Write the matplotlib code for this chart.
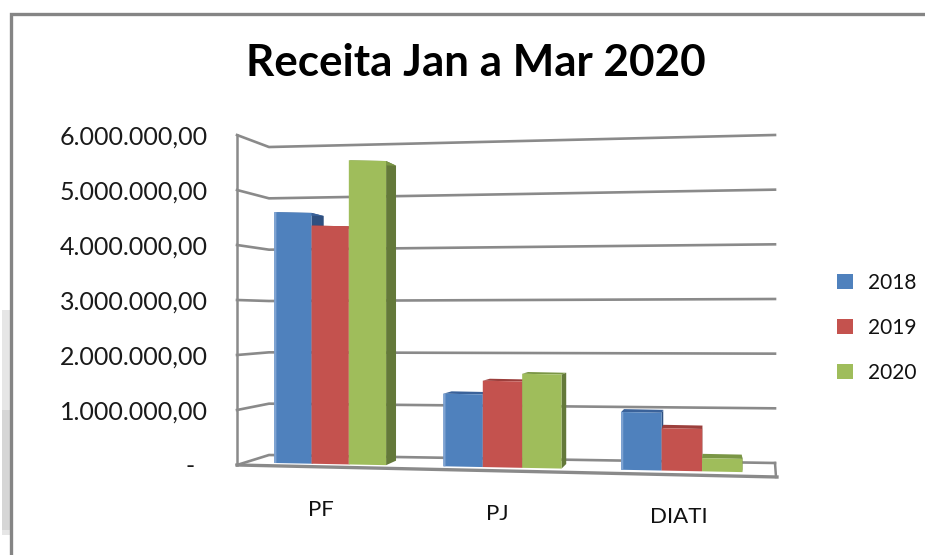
import matplotlib
matplotlib.use('Agg')
import matplotlib.pyplot as plt
from matplotlib.patches import Polygon, Rectangle
from matplotlib.transforms import Affine2D
from matplotlib.ticker import FuncFormatter

# Valores
categorias = ['PF', 'PJ', 'DIATI']
anos = ['2018', '2019', '2020']
valores_2018 = [4560000, 1320000, 1050000]
valores_2019 = [4330000, 1570000, 770000]
valores_2020 = [5530000, 1710000, 240000]
eje_y = [0, 1000000, 2000000, 3000000, 4000000, 5000000, 6000000]

series = [valores_2018, valores_2019, valores_2020]
colores = ['#4F81BD', '#C4524E', '#9FBD5B']
oscuros = ['#2F5080', '#8E3835', '#64793A']
tapas = ['#3A629A', '#9C3F3C', '#7A9645']

# Posiciones de los grupos (la perspectiva los separa un poco distinto)
pos_x = [0, 0.98, 2]
ancho = [0.212, 0.224, 0.23]
pos_etiqueta = [-0.055, 0.95, 1.985]

W, H = 925, 555
fig = plt.figure(figsize=(W / 100, H / 100), dpi=100, facecolor='white')
plt.rcParams['font.family'] = ['Lato', 'DejaVu Sans']

# Fondo en pixeles: marco, paredes y sombra de la izquierda
bg = fig.add_axes([0, 0, 1, 1])
bg.set_xlim(0, W)
bg.set_ylim(H, 0)
bg.axis('off')

bg.add_patch(Rectangle((2, 310), 8, 225, color='#E6E6E6', lw=0))
bg.add_patch(Rectangle((2, 410), 8, 120, color='#D6D6D6', lw=0))
bg.plot([11, 11, W], [H, 14, 14], color='#858585', lw=2.4, solid_joinstyle='miter')

gris = '#8A8A8A'
for v in eje_y:
    m = v / 1e6
    bg.plot([237, 269, 775], [465 - 55 * m, 455 - 51.33 * m, 463 - 54.67 * m],
            color=gris, lw=1.9)
bg.plot([237, 237], [135, 465], color=gris, lw=1.8)
bg.plot([237, 777], [465, 477], color=gris, lw=2.4)
bg.plot([775, 776], [463, 477], color=gris, lw=1.8)

# Ejes principales con la escala real de los valores
ax = fig.add_axes([237 / W, 1 - 465 / H, 538 / W, 330 / H], facecolor='none')
ax.set_xlim(-0.53, 2.53)
ax.set_ylim(0, 6000000)
for s in ax.spines.values():
    s.set_visible(False)

# El plano de las barras baja un poco hacia la derecha
corte = Affine2D.from_values(1, -0.0195, 0, 1, 0, 7.36)
trans = ax.transData + corte

# Punto de fuga para las caras laterales
fuga = (717, 315)
prof = 0.03


def a_fondo(x, y):
    px, py = (ax.transData + corte + bg.transData.inverted()).transform((x, y))
    return px, py


def atras(p):
    return p[0] + prof * (fuga[0] - p[0]), p[1] + prof * (fuga[1] - p[1])


barras = []
for i, (vals, col) in enumerate(zip(series, colores)):
    xs = [pos_x[j] + (i - 1) * ancho[j] for j in range(3)]
    b = ax.bar(xs, vals, width=ancho, color=col, label=anos[i], transform=trans, lw=0, clip_on=False)
    barras.append(b)
    for j in range(3):
        izq = xs[j] - ancho[j] / 2
        der = xs[j] + ancho[j] / 2
        tl = a_fondo(izq, vals[j])
        tr = a_fondo(der, vals[j])
        br = a_fondo(der, 0)
        bg.add_patch(Polygon([tr, atras(tr), atras(br), br], color=oscuros[i], lw=0, zorder=3))
        bg.add_patch(Polygon([tl, tr, atras(tr), atras(tl)], color=tapas[i], lw=0, zorder=3))

# Borde claro de las barras azules
xs_azul = [pos_x[j] - ancho[j] - ancho[j] / 2 + 0.006 for j in range(3)]
ax.bar(xs_azul, valores_2018, width=0.012, color='#7FA3D2', transform=trans, lw=0, clip_on=False)

# Ejes y textos
ax.set_xticks([])
ax.set_yticks(eje_y)
ax.yaxis.set_major_formatter(FuncFormatter(
    lambda v, p: '-  ' if v == 0 else f'{v:,.2f}'.replace(',', 'X').replace('.', ',').replace('X', '.')))
ax.tick_params(axis='y', length=0, pad=21, labelsize=18, labelcolor='#1A1A1A')

for x, c in zip(pos_etiqueta, categorias):
    ax.text(x, -840000, c, transform=trans, ha='center', va='center',
            fontsize=16, color='#111111', clip_on=False)

fig.text(475.5 / W, 1 - 63 / H, 'Receita Jan a Mar 2020', ha='center', va='center',
         fontsize=31.7, fontweight='bold', color='black')

fig.legend(handles=[b[0] for b in barras], labels=anos, loc='center left',
           bbox_to_anchor=(818 / W, 1 - 328 / H), frameon=False, fontsize=15,
           handlelength=0.77, handleheight=0.7, handletextpad=0.72, labelspacing=1.2,
           labelcolor='#111111')

fig.savefig('out.png', dpi=100)
